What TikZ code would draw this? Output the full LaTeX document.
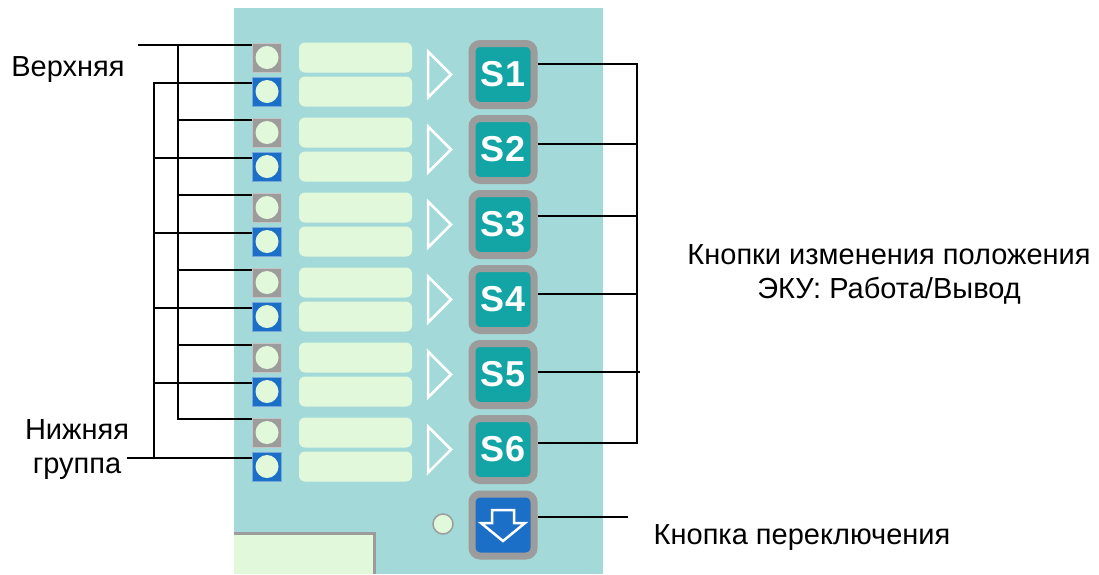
\documentclass[tikz,border=0pt]{standalone}
\usepackage{fontspec}
\setmainfont{Liberation Sans}
\usetikzlibrary{calc}
\definecolor{panel}{HTML}{A3D9D8}
\definecolor{lamp}{HTML}{E1F8DB}
\definecolor{rim}{HTML}{9C9C9C}
\definecolor{teal}{HTML}{13A5A5}
\definecolor{blu}{HTML}{1C6FC6}
\tikzset{
  ind/.style={draw=#1!60!white,line width=1pt,fill=#1,minimum size=29pt,inner sep=0pt},
  bar/.style={fill=lamp,rounded corners=6pt,minimum width=113pt,minimum height=30pt,inner sep=0pt},
  btn/.style={draw=rim,line width=7pt,fill=#1,rounded corners=8pt,minimum size=62pt,inner sep=0pt,
    text=white,font=\fontsize{36}{36}\selectfont\bfseries},
  lab/.style={font=\fontsize{29}{34}\selectfont,align=center,inner sep=0pt},
  wire/.style={line width=1.6pt}
}
\begin{document}
\begin{tikzpicture}[x=1pt,y=-1pt]
\useasboundingbox (0,0) rectangle (1099,574);
\fill[panel] (234,8) rectangle (603,574);
% display box bottom left
\fill[lamp] (234,533) rectangle (374,574);
\draw[rim,line width=3pt] (234,533)--(374,533)--(374,574);
% rows
\foreach \n [evaluate=\n as \c using 74.5+75*(\n-1)] in {1,...,6}{
  \node[ind=rim] (G\n) at (267,\c-17) {};
  \node[ind=blu] (B\n) at (267,\c+17) {};
  \fill[lamp] (G\n) circle (11.5);
  \fill[lamp] (B\n) circle (11.5);
  \node[bar] at (355.5,\c-17) {};
  \node[bar] at (355.5,\c+17) {};
  \draw[white,line width=2.5pt,line join=miter] (428,\c-23)--(451,\c)--(428,\c+23)--cycle;
  \node[btn=teal] (S\n) at (503,\c) {S\n};
}
\node[btn=blu] (D) at (503,525) {};
\draw[white,line width=2.5pt] ($(D)+(-11,-15)$)--($(D)+(11,-15)$)--($(D)+(11,-2)$)--($(D)+(22,-2)$)
  --($(D)+(0,16)$)--($(D)+(-22,-2)$)--($(D)+(-11,-2)$)--cycle;
\draw[rim,line width=1.5pt,fill=lamp] (443,524) circle (10);
% labels
\node[lab] (U) at (68,70) {Верхняя};
\node[lab] (L) at (77,450) {Нижняя\\группа};
\node[lab] (K) at (889,274) {Кнопки изменения положения\\ЭКУ: Работа/Вывод};
\node[lab] (P) at (802,538) {Кнопка переключения};
% left wires
\coordinate (UA) at (178,45);
\coordinate (LA) at (154,458);
\draw[wire] (138,45)--(UA)--(G1.west|-UA);
\draw[wire] (127,458)--(LA)--(B6.west|-LA);
\draw[wire] (UA)--(178,419)--(G6.west|-0,419);
\draw[wire] (LA)--(154,83)--(B1.west|-0,83);
\foreach \n in {2,...,5}{
  \draw[wire] (178,45+75*\n-75)--(G\n.west|-0,45+75*\n-75);
  \draw[wire] (154,83+75*\n-75)--(B\n.west|-0,83+75*\n-75);
}
% right wires
\coordinate (R) at (637,64);
\draw[wire] (S1.east|-R)--(R)--(637,443)--(S6.east|-0,443);
\draw[wire] (S2.east|-0,144)--(637,144);
\draw[wire] (S3.east|-0,216)--(637,216);
\draw[wire] (S4.east|-0,294)--(637,294);
\draw[wire] (S5.east|-0,372)--(640,372);
\draw[wire] (D.east|-0,517)--(628,517);
\end{tikzpicture}
\end{document}
